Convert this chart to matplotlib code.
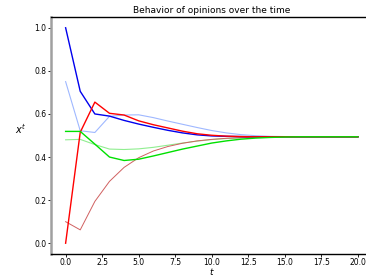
import matplotlib
matplotlib.use("Agg")
import matplotlib.pyplot as plt
import numpy as np

t = list(range(21))
blue = [1.0, 0.705, 0.60, 0.59, 0.57, 0.553, 0.538, 0.524, 0.512, 0.503, 0.498, 0.496, 0.495, 0.494, 0.494, 0.494, 0.494, 0.494, 0.494, 0.494, 0.494]
red = [0.0, 0.515, 0.655, 0.603, 0.595, 0.568, 0.55, 0.535, 0.52, 0.508, 0.501, 0.497, 0.495, 0.494, 0.494, 0.494, 0.494, 0.494, 0.494, 0.494, 0.494]
lightblue = [0.75, 0.522, 0.514, 0.589, 0.595, 0.596, 0.583, 0.567, 0.552, 0.537, 0.523, 0.512, 0.504, 0.499, 0.496, 0.495, 0.494, 0.494, 0.494, 0.494, 0.494]
green = [0.519, 0.519, 0.46, 0.40, 0.384, 0.39, 0.405, 0.421, 0.437, 0.451, 0.465, 0.475, 0.483, 0.488, 0.491, 0.493, 0.494, 0.494, 0.494, 0.494, 0.494]
lightgreen = [0.48, 0.482, 0.458, 0.437, 0.435, 0.438, 0.445, 0.455, 0.465, 0.474, 0.481, 0.486, 0.489, 0.491, 0.493, 0.494, 0.494, 0.494, 0.494, 0.494, 0.494]
indianred = [0.10, 0.062, 0.194, 0.287, 0.352, 0.397, 0.428, 0.449, 0.464, 0.475, 0.482, 0.487, 0.49, 0.492, 0.493, 0.494, 0.494, 0.494, 0.494, 0.494, 0.494]

fig = plt.figure(figsize=(3.66, 2.77), dpi=100)
ax = fig.add_axes([51/366, 1-254/277, (372.6-51)/366, (254-17)/277])

ax.plot(t, lightblue, color='#9fb8ff', lw=0.8)
ax.plot(t, lightgreen, color='#90ee90', lw=0.8)
ax.plot(t, indianred, color='#d06060', lw=0.7)
ax.plot(t, blue, color='#0000ee', lw=1.0)
ax.plot(t, red, color='#ff0000', lw=1.0)
ax.plot(t, green, color='#00e000', lw=1.0)

ax.set_xlim(-1, 21)
ax.set_ylim(-0.05, 1.05)
ax.set_xticks(np.arange(0, 20.1, 2.5))
ax.set_yticks(np.arange(0, 1.01, 0.2))
ax.tick_params(labelsize=5.5, length=2, width=0.6, pad=1.2)
ax.spines['left'].set_color('#a0a0a0')
ax.spines['left'].set_linewidth(1.8)
ax.spines['top'].set_linewidth(1.0)
ax.spines['bottom'].set_linewidth(1.0)
ax.set_title('Behavior of opinions over the time', fontsize=6.5, pad=3)
ax.set_xlabel('$t$', fontsize=6.5, labelpad=-0.8)
ax.set_ylabel('$x^t$', fontsize=7, rotation=0, labelpad=10)

fig.savefig('out.png', dpi=100)
